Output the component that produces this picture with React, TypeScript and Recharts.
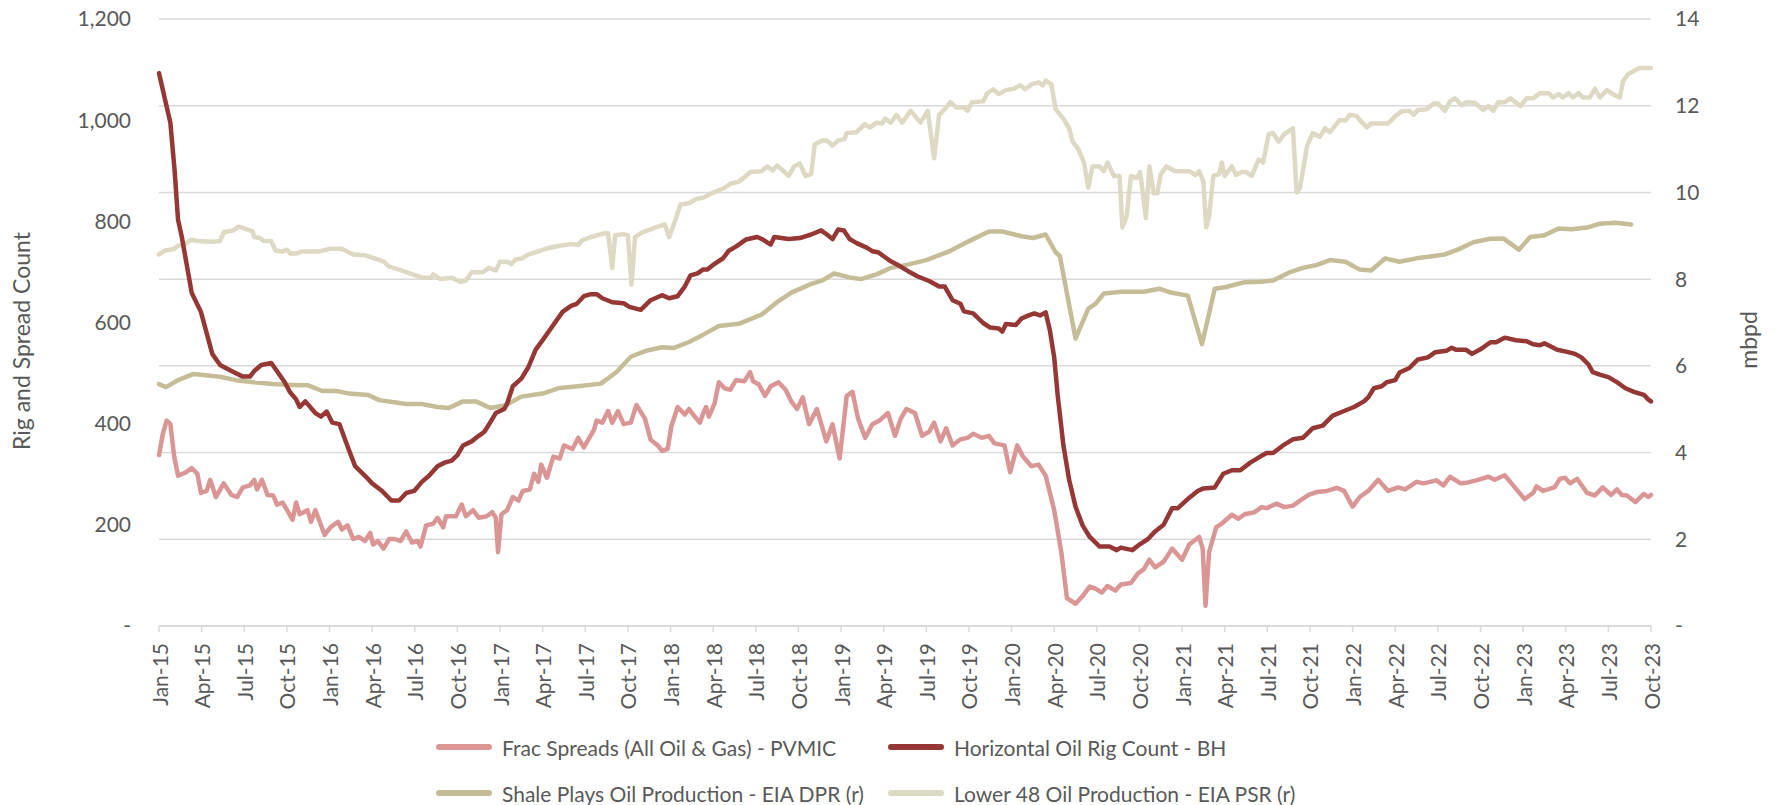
import React from 'react';
import { LineChart, Line, XAxis, YAxis, CartesianGrid } from 'recharts';

// x positions are months since Jan-2015
const QUARTER_LABELS = [
  'Jan-15','Apr-15','Jul-15','Oct-15','Jan-16','Apr-16','Jul-16','Oct-16',
  'Jan-17','Apr-17','Jul-17','Oct-17','Jan-18','Apr-18','Jul-18','Oct-18',
  'Jan-19','Apr-19','Jul-19','Oct-19','Jan-20','Apr-20','Jul-20','Oct-20',
  'Jan-21','Apr-21','Jul-21','Oct-21','Jan-22','Apr-22','Jul-22','Oct-22',
  'Jan-23','Apr-23','Jul-23','Oct-23',
];
const LEFT_TICKS = [0, 200, 400, 600, 800, 1000, 1200];
const RIGHT_TICKS = [0, 2, 4, 6, 8, 10, 12, 14];

const SERIES_NAMES = [
  'Frac Spreads (All Oil & Gas) - PVMIC',
  'Horizontal Oil Rig Count - BH',
  'Shale Plays Oil Production - EIA DPR (r)',
  'Lower 48 Oil Production - EIA PSR (r)',
];
const SERIES_COLORS = ['#D99694', '#953735', '#C4BD97', '#DDD9C3'];

const RIG_MONTHS = [0,0.4,0.8,1.1,1.34,1.6,2.3,2.95,3.75,4.3,5.1,5.9,6.4,6.7,7.2,7.9,8.85,9.2,9.65,9.9,10.3,11,11.4,11.8,12.2,12.7,13.3,13.8,14.5,15,15.7,16.35,16.9,17.4,17.96,18.5,19,19.6,20.1,20.6,21,21.4,22,22.5,22.9,23.3,23.7,24.3,24.5,24.9,25.5,26,26.5,27.1,27.75,28.4,29,29.4,29.9,30.4,30.8,31.2,31.9,32.7,33.1,33.5,33.9,34.6,35.4,35.9,36.5,37,37.4,37.9,38.3,38.6,39.1,39.7,40.1,40.6,41.3,42.1,42.5,43.05,43.3,44.3,45.1,45.9,46.6,47,47.4,47.8,48.2,48.6,49.1,49.8,50.2,50.6,51,51.5,52.1,52.75,53.4,54.2,54.9,55.3,55.85,56.4,56.65,57.3,58,58.5,59.1,59.35,59.6,60.3,60.7,61.2,61.6,62,62.4,62.7,63,63.25,63.65,64.05,64.5,65,65.5,66.2,66.9,67.4,67.7,68.5,69,69.6,70.1,70.7,71.3,71.7,72.4,73.1,73.5,74.3,74.9,75.5,76.1,76.8,77.5,77.95,78.4,79.1,79.8,80.5,81.2,81.9,82.6,83.4,84.1,84.8,85.1,85.5,86.05,86.4,87,87.3,88,88.6,89.3,89.8,90.6,90.97,91.3,92,92.4,93,93.7,94.1,94.7,95.5,96.25,96.7,97.2,97.5,98.4,99.1,99.65,100.1,100.6,100.9,101.4,102,102.6,103.2,103.8,104.5,104.8,105];
const RIG_COUNT = [1093,1044,995,900,803,770,659,621,538,516,504,493,493,504,516,520,482,463,448,433,444,421,414,424,402,399,353,316,297,282,267,248,248,263,267,285,297,316,323,327,338,357,365,376,384,402,421,429,440,474,489,512,546,569,595,621,633,637,652,656,656,648,640,638,631,628,625,644,654,648,652,671,693,697,705,705,716,727,742,750,764,769,764,754,769,765,767,774,782,774,765,784,782,765,757,748,741,739,731,721,712,701,691,682,671,671,644,637,622,618,599,590,588,582,597,595,608,614,618,614,620,584,531,455,357,289,236,199,176,157,157,150,155,150,161,172,187,200,233,233,251,267,272,274,301,308,308,323,335,342,342,357,369,372,391,396,416,425,433,444,452,470,474,482,486,501,510,527,531,541,544,550,546,546,538,547,561,561,570,565,563,557,555,559,546,542,538,531,517,502,497,492,482,470,463,457,448,444];

const FRAC_MONTHS = [0,0.27,0.54,0.8,1.07,1.34,1.9,2.3,2.7,2.95,3.35,3.6,4,4.55,5.1,5.5,5.9,6.4,6.7,6.9,7.24,7.64,8.04,8.3,8.7,9.1,9.4,9.65,9.9,10.45,10.7,11,11.26,11.66,12.06,12.6,12.87,13.27,13.67,14.07,14.5,14.87,15.06,15.4,15.8,16.2,16.6,17,17.4,17.8,18.2,18.4,18.8,19.3,19.6,20,20.2,20.9,21.3,21.6,22.1,22.5,23.06,23.46,23.7,23.86,24.1,24.5,24.9,25.3,25.6,26.1,26.4,26.7,26.9,27.3,27.75,28.2,28.5,29.1,29.5,29.9,30.6,30.8,31.2,31.6,31.9,32.3,32.7,33.2,33.6,34.2,34.6,35.1,35.4,35.8,36.06,36.5,37,37.3,37.7,38.07,38.3,38.5,38.7,39.1,39.4,39.8,40.2,40.6,41.2,41.6,41.8,42.2,42.65,43.05,43.6,44.1,44.5,44.9,45.3,45.75,46.3,46.96,47.4,47.9,48.4,48.8,49.2,49.7,50.2,50.7,51.3,51.8,52.2,52.6,53.2,53.7,54.2,54.55,55,55.4,55.85,56.4,56.9,57.3,57.9,58.4,58.8,59.5,59.9,60.4,60.8,61.4,61.9,62.4,63,63.5,63.9,64.5,65,65.5,65.9,66.35,66.75,67.3,67.7,68.4,68.9,69.3,69.7,70.1,70.7,71.3,72,72.5,73.2,73.45,73.65,73.9,74.4,74.9,75.1,75.5,75.96,76.4,77.1,77.6,77.95,78.65,79.2,79.8,80.3,80.9,81.5,82.2,82.9,83.4,84,84.5,85.1,85.8,86.5,87.2,87.7,88.5,89,89.9,90.4,90.85,91.6,92,92.7,93.55,94,94.7,95.3,96.1,96.7,96.95,97.4,98.2,98.6,98.95,99.3,99.8,100.5,101.05,101.6,102.2,102.6,102.95,103.3,103.9,104.5,104.8,105];
const FRAC_SPREADS = [338,380,406,399,335,297,304,312,301,263,267,289,255,282,259,255,274,278,289,270,289,259,258,240,244,225,210,244,221,229,206,229,210,180,195,206,191,199,172,176,168,184,161,168,153,172,172,168,187,165,168,157,199,202,214,195,217,217,240,217,229,214,217,225,214,146,221,229,255,248,267,270,301,285,319,293,335,331,357,350,372,353,387,406,402,425,402,425,399,402,437,410,368,357,346,350,395,433,418,429,414,402,421,433,414,440,482,470,467,486,484,502,484,478,455,474,482,467,444,429,452,399,429,365,399,331,455,463,410,372,399,406,421,376,410,429,421,376,384,402,365,391,357,369,372,380,372,376,361,357,304,357,335,316,319,297,229,146,55,44,59,78,74,66,79,70,82,85,104,112,131,116,127,153,131,161,176,153,40,146,195,205,210,220,212,221,225,235,233,242,235,238,248,259,265,267,273,267,236,255,267,289,267,274,270,285,282,288,278,295,282,283,288,295,289,298,278,251,263,276,267,274,291,293,282,291,263,258,274,259,270,259,258,245,261,255,259];

const DPR_MONTHS = [0,0.5,1.34,2.4,4.3,5.4,6.7,8,9.4,10.5,11.5,12.5,13.4,14.7,15.5,17.4,18.5,19.6,20.4,21.4,22.3,23.3,24.4,25.5,27.1,28.2,29.5,31.1,32.2,33.2,34.3,35.4,36.2,37.3,38.3,39.4,40.8,42.4,43.5,44.5,45.9,46.7,47.5,48.6,49.4,50.5,51.5,52.6,54,55.6,56.9,58.4,59.35,60.7,61.5,62.4,63.1,63.4,64.5,65.4,65.9,66.5,67.7,69.3,70.4,71.2,72.4,73.4,74.3,75.1,76.4,77.6,78.4,79.5,80.5,81.5,82.4,83.5,84.5,85.3,86.3,87.3,88.5,90.5,91.4,92.5,93.7,94.6,95.7,96.5,97.5,98.5,99.4,100.5,101.4,102.5,103.6];
const DPR_PRODUCTION = [5.58,5.51,5.67,5.81,5.75,5.67,5.62,5.58,5.56,5.55,5.42,5.42,5.36,5.33,5.21,5.12,5.12,5.05,5.03,5.18,5.18,5.03,5.09,5.29,5.37,5.49,5.53,5.59,5.86,6.21,6.35,6.43,6.41,6.55,6.72,6.92,6.97,7.18,7.47,7.69,7.89,7.97,8.13,8.04,8.0,8.11,8.26,8.33,8.44,8.64,8.86,9.1,9.1,8.99,8.95,9.03,8.62,8.53,6.63,7.32,7.43,7.67,7.71,7.71,7.78,7.69,7.62,6.5,7.78,7.82,7.93,7.94,7.97,8.15,8.26,8.33,8.44,8.4,8.22,8.2,8.48,8.4,8.48,8.57,8.68,8.85,8.93,8.94,8.68,8.97,9.01,9.17,9.15,9.19,9.28,9.3,9.26];

const PSR_MONTHS = [0,0.4,0.8,1.07,1.34,1.75,2.3,2.7,3.75,4.3,4.55,5.2,5.6,6,6.6,6.7,7.1,7.37,7.9,8.2,8.7,9,9.25,9.65,10.05,10.7,11.26,12.06,12.87,13.67,14.5,15.8,16.2,16.9,17.7,18.6,19.17,19.3,19.8,20.6,21.2,21.6,22,22.8,23.06,23.2,23.7,24,24.5,24.8,25.1,25.5,26,26.5,27.2,28.2,29,29.5,29.8,30.6,31.4,31.6,31.9,32.1,32.7,33,33.25,33.5,34,34.6,35.1,35.6,35.9,36.3,36.7,37.3,37.8,38.3,38.9,39.7,40.2,40.8,41.2,41.6,42.4,42.8,43.2,43.5,43.9,44.3,44.7,45.1,45.5,45.9,46.15,46.7,47,47.4,47.8,48.25,48.4,49.1,49.65,50.05,50.5,50.9,51.1,51.5,51.9,52.3,52.9,53.6,54.1,54.55,54.9,55.3,55.7,56.1,56.65,56.9,57.2,58,58.3,58.7,59.1,59.6,60.15,60.6,60.96,61.4,61.9,62.2,62.4,62.8,63.1,63.65,64.05,64.3,64.7,65.1,65.4,65.7,66.2,66.5,66.75,67.2,67.6,67.8,68.1,68.4,68.8,69.05,69.45,69.7,70,70.25,70.5,70.9,71.5,72.5,72.95,73.2,73.5,73.7,73.9,74.2,74.6,74.8,75,75.5,75.8,76.2,76.5,76.9,77.4,77.7,78.1,78.4,78.8,79.2,79.8,80.06,80.3,80.8,81.2,81.7,82.06,82.4,83.1,83.5,83.8,84.3,84.5,85,85.3,86.5,87,87.5,88,88.3,88.6,89.2,89.7,90,90.5,90.85,91.2,91.7,92,92.6,93.2,93.55,93.9,94.25,94.7,95.1,95.4,95.8,96.25,96.7,97.2,97.8,98.1,98.5,98.8,99.2,99.5,99.9,100.2,100.7,101.05,101.4,101.9,102.35,102.8,103.05,103.4,103.8,104.2,105];
const PSR_PRODUCTION = [8.57,8.66,8.68,8.7,8.77,8.79,8.91,8.88,8.86,8.88,9.08,9.12,9.21,9.17,9.1,8.97,8.95,8.88,8.88,8.66,8.64,8.68,8.59,8.59,8.64,8.64,8.64,8.7,8.7,8.57,8.55,8.41,8.29,8.22,8.13,8.03,8.03,8.11,8.0,8.03,7.94,7.97,8.16,8.16,8.22,8.26,8.2,8.4,8.4,8.35,8.46,8.47,8.57,8.62,8.7,8.77,8.81,8.79,8.9,8.99,9.06,9.06,8.26,9.01,9.04,9.01,7.87,8.97,9.08,9.15,9.21,9.26,8.97,9.32,9.72,9.75,9.85,9.88,9.98,10.09,10.2,10.25,10.35,10.47,10.49,10.6,10.51,10.62,10.51,10.38,10.6,10.67,10.38,10.42,11.11,11.2,11.2,11.08,11.2,11.23,11.37,11.39,11.57,11.5,11.61,11.59,11.7,11.61,11.79,11.61,11.88,11.61,11.88,10.79,11.79,11.92,12.08,11.96,11.96,11.88,12.08,12.1,12.29,12.38,12.27,12.36,12.39,12.47,12.38,12.49,12.54,12.47,12.58,12.49,11.92,11.7,11.48,11.17,11.0,10.69,10.11,10.6,10.6,10.49,10.69,10.38,10.38,9.19,9.45,10.38,10.33,10.47,9.41,10.6,9.98,9.98,10.42,10.6,10.49,10.49,10.4,10.49,10.25,9.19,9.45,10.38,10.42,10.69,10.38,10.6,10.4,10.47,10.47,10.38,10.76,10.69,11.35,11.37,11.17,11.35,11.48,10.0,10.11,11.08,11.37,11.28,11.48,11.39,11.67,11.66,11.79,11.76,11.67,11.5,11.59,11.59,11.76,11.88,11.88,11.79,11.9,11.92,12.05,12.05,11.88,12.1,12.17,12.01,12.08,12.07,11.9,11.99,11.88,12.08,12.08,12.17,12.1,11.99,12.17,12.17,12.29,12.29,12.19,12.27,12.19,12.29,12.19,12.29,12.19,12.19,12.39,12.19,12.36,12.26,12.19,12.58,12.73,12.8,12.87,12.87];

const zip = (ms: number[], vs: number[]) => ms.map((m, i) => ({ m, v: vs[i] }));
const fracData = zip(FRAC_MONTHS, FRAC_SPREADS);
const rigData = zip(RIG_MONTHS, RIG_COUNT);
const dprData = zip(DPR_MONTHS, DPR_PRODUCTION);
const psrData = zip(PSR_MONTHS, PSR_PRODUCTION);

const FONT = "Lato, 'Noto Sans', sans-serif";
const TEXT = '#595959';
const GRID = '#D9D9D9';
const FS = 21;
const TITLE_FS = 23;

const fmtLeft = (v: number) => (v === 0 ? '-' : v.toLocaleString('en-US'));
const fmtRight = (v: number) => (v === 0 ? '-' : String(v));

const XTick = (props: any) => {
  const { x, y, payload } = props;
  const label = QUARTER_LABELS[Math.round(payload.value / 3)];
  return (
    <text
      x={x}
      y={y}
      transform={`rotate(-90 ${x} ${y})`}
      textAnchor="end"
      dominantBaseline="central"
      fill={TEXT}
      fontSize={FS}
      fontFamily={FONT}
    >
      {label}
    </text>
  );
};

const LegendItem = ({ name, color, left, top }: { name: string; color: string; left: number; top: number }) => (
  <div style={{ position: 'absolute', left, top, display: 'flex', alignItems: 'center', height: 30, transform: 'translateY(-50%)' }}>
    <div style={{ width: 56, height: 6, borderRadius: 3, background: color, marginRight: 10 }} />
    <span style={{ fontFamily: FONT, fontSize: FS, color: TEXT, whiteSpace: 'nowrap' }}>{name}</span>
  </div>
);

export default function App() {
  return (
    <div style={{ position: 'absolute', left: 0, top: 0, width: 1779, height: 805, background: '#fff' }}>
      <LineChart width={1779} height={805} margin={{ top: 19, right: 0, bottom: 79, left: 0 }}>
        <CartesianGrid vertical={false} yAxisId="right" stroke={GRID} strokeWidth={1.5} />
        <XAxis
          dataKey="m"
          type="number"
          domain={[0, 105]}
          ticks={QUARTER_LABELS.map((_, i) => i * 3)}
          interval={0}
          height={100}
          tick={<XTick />}
          tickSize={6}
          tickMargin={11}
          axisLine={{ stroke: GRID, strokeWidth: 1.5 }}
          tickLine={{ stroke: GRID, strokeWidth: 1.5 }}
          allowDuplicatedCategory={false}
        />
        <YAxis
          yAxisId="left"
          domain={[0, 1200]}
          ticks={LEFT_TICKS}
          interval={0}
          width={159}
          tickFormatter={fmtLeft}
          tick={{ fill: TEXT, fontSize: FS, fontFamily: FONT }}
          axisLine={false}
          tickLine={false}
          tickSize={0}
          tickMargin={28}
        />
        <YAxis
          yAxisId="right"
          orientation="right"
          domain={[0, 14]}
          ticks={RIGHT_TICKS}
          interval={0}
          width={128}
          tickFormatter={fmtRight}
          tick={{ fill: TEXT, fontSize: FS, fontFamily: FONT, textAnchor: 'start' }}
          axisLine={false}
          tickLine={false}
          tickSize={0}
          tickMargin={24}
        />
        <Line yAxisId="right" data={psrData} dataKey="v" name={SERIES_NAMES[3]} stroke={SERIES_COLORS[3]} strokeWidth={4.5} dot={false} isAnimationActive={false} strokeLinejoin="round" strokeLinecap="round" />
        <Line yAxisId="right" data={dprData} dataKey="v" name={SERIES_NAMES[2]} stroke={SERIES_COLORS[2]} strokeWidth={4.5} dot={false} isAnimationActive={false} strokeLinejoin="round" strokeLinecap="round" />
        <Line yAxisId="left" data={fracData} dataKey="v" name={SERIES_NAMES[0]} stroke={SERIES_COLORS[0]} strokeWidth={4.5} dot={false} isAnimationActive={false} strokeLinejoin="round" strokeLinecap="round" />
        <Line yAxisId="left" data={rigData} dataKey="v" name={SERIES_NAMES[1]} stroke={SERIES_COLORS[1]} strokeWidth={4.5} dot={false} isAnimationActive={false} strokeLinejoin="round" strokeLinecap="round" />
      </LineChart>

      <div style={{ position: 'absolute', left: 21, top: 341, transform: 'translate(-50%, -50%) rotate(-90deg)', fontFamily: FONT, fontSize: TITLE_FS, color: TEXT, whiteSpace: 'nowrap' }}>
        Rig and Spread Count
      </div>
      <div style={{ position: 'absolute', left: 1748, top: 340, transform: 'translate(-50%, -50%) rotate(-90deg)', fontFamily: FONT, fontSize: TITLE_FS, color: TEXT, whiteSpace: 'nowrap' }}>
        mbpd
      </div>

      <LegendItem name={SERIES_NAMES[0]} color={SERIES_COLORS[0]} left={436} top={747} />
      <LegendItem name={SERIES_NAMES[1]} color={SERIES_COLORS[1]} left={888} top={747} />
      <LegendItem name={SERIES_NAMES[2]} color={SERIES_COLORS[2]} left={436} top={793} />
      <LegendItem name={SERIES_NAMES[3]} color={SERIES_COLORS[3]} left={888} top={793} />
    </div>
  );
}
